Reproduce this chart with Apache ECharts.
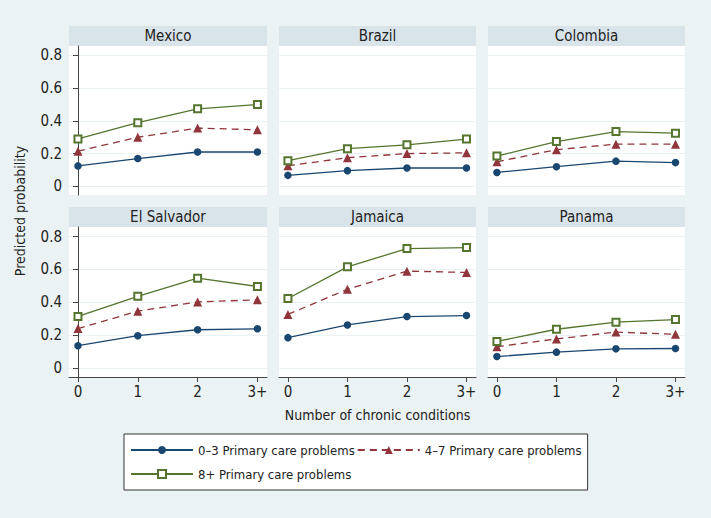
<!DOCTYPE html>
<html>
<head>
<meta charset="utf-8">
<script src="https://cdn.jsdelivr.net/npm/echarts@6/dist/echarts.min.js"></script>
<style>
html,body{margin:0;padding:0;background:#eaf2f3;}
#c{width:711px;height:518px;}
</style>
</head>
<body>
<div id="c"></div>
<script>
// ---- data ----
const categories = ['0', '1', '2', '3+'];
const countries = ['Mexico', 'Brazil', 'Colombia', 'El Salvador', 'Jamaica', 'Panama'];
const groupNames = ['0–3 Primary care problems', '4–7 Primary care problems', '8+ Primary care problems'];
// predicted probabilities, one row per country (same order as countries)
const probLow = [
  [0.125, 0.170, 0.210, 0.210],
  [0.067, 0.096, 0.112, 0.112],
  [0.085, 0.120, 0.154, 0.145],
  [0.137, 0.198, 0.234, 0.240],
  [0.186, 0.263, 0.314, 0.320],
  [0.071, 0.098, 0.118, 0.120]
];
const probMid = [
  [0.215, 0.300, 0.356, 0.346],
  [0.126, 0.175, 0.200, 0.205],
  [0.150, 0.224, 0.258, 0.258],
  [0.241, 0.347, 0.403, 0.416],
  [0.327, 0.480, 0.590, 0.582],
  [0.131, 0.178, 0.220, 0.206]
];
const probHigh = [
  [0.290, 0.389, 0.474, 0.500],
  [0.157, 0.230, 0.254, 0.289],
  [0.185, 0.274, 0.335, 0.325],
  [0.315, 0.437, 0.547, 0.497],
  [0.424, 0.616, 0.727, 0.733],
  [0.163, 0.237, 0.280, 0.296]
];
const yTickValues = [0, 0.2, 0.4, 0.6, 0.8];
const yTickLabels = ['0', '0.2', '0.4', '0.6', '0.8'];
const xTickValues = [0, 1, 2, 3];

// ---- layout / style ----
const FONT = "'Liberation Sans Narrow', 'DejaVu Sans Condensed', sans-serif";
const colors = ['#1a476f', '#90353b', '#55752f'];
const colLeft = [69, 279, 488];
const colWidth = [198, 197, 197];
const rowTop = [46, 227];
const rowHeight = [149, 150];
const barH = 20;

const grids = [], xAxes = [], yAxes = [], series = [], titles = [], graphics = [];
countries.forEach((name, i) => {
  const r = Math.floor(i / 3), c = i % 3;
  grids.push({ left: colLeft[c], top: rowTop[r], width: colWidth[c], height: rowHeight[r], show: true, backgroundColor: '#ffffff', borderWidth: 0 });
  graphics.push({ type: 'rect', shape: { x: colLeft[c], y: rowTop[r] - barH, width: colWidth[c], height: barH }, style: { fill: '#d8e4ea' }, silent: true });
  titles.push({ text: name, left: colLeft[c] + colWidth[c] / 2, top: rowTop[r] - barH + 2, textAlign: 'center', padding: 0,
    textStyle: { fontFamily: FONT, fontSize: 15, fontWeight: 'normal', color: '#222' } });
  const bottom = r === 1;
  xAxes.push({
    gridIndex: i, type: 'value', min: -0.15, max: 3.16,
    show: bottom,
    axisLine: { show: bottom, onZero: false, lineStyle: { color: '#444', width: 1 } },
    axisTick: { show: bottom, customValues: xTickValues, length: 5, lineStyle: { color: '#444' } },
    axisLabel: { show: bottom, customValues: xTickValues, formatter: v => categories[Math.round(v)], fontFamily: FONT, fontSize: 15, color: '#222', margin: 7 },
    splitLine: { show: false },
    name: (i === 4) ? 'Number of chronic conditions' : '',
    nameLocation: 'middle', nameGap: 31,
    nameTextStyle: { fontFamily: FONT, fontSize: 14, color: '#222' }
  });
  const leftCol = c === 0;
  yAxes.push({
    gridIndex: i, type: 'value', min: -0.053, max: 0.858,
    axisLine: { show: leftCol, lineStyle: { color: '#444', width: 1 } },
    axisTick: { show: leftCol, customValues: yTickValues, length: 5, lineStyle: { color: '#444' } },
    axisLabel: { show: leftCol, customValues: yTickValues, formatter: v => yTickLabels[yTickValues.findIndex(t => Math.abs(t - v) < 1e-6)] ?? '', fontFamily: FONT, fontSize: 15, color: '#222', margin: 7 },
    splitLine: { show: true, lineStyle: { color: '#eaf2f3', width: 1 } }
  });
  const sets = [probLow[i], probMid[i], probHigh[i]];
  const symbols = ['circle', 'triangle', 'emptyRect'];
  const sizes = [7.5, 9, 7];
  sets.forEach((vals, g) => {
    series.push({
      type: 'line', name: groupNames[g], xAxisIndex: i, yAxisIndex: i,
      data: vals.map((v, k) => [xTickValues[k], v]),
      symbol: symbols[g], symbolSize: sizes[g],
      showAllSymbol: true,
      lineStyle: { color: colors[g], width: 1.3, type: g === 1 ? [7, 5] : 'solid' },
      itemStyle: { color: colors[g], borderWidth: g === 2 ? 1.4 : 0 },
      emphasis: { disabled: true },
      animation: false, z: 3 + g
    });
  });
});

graphics.push({ type: 'text', x: 20, y: 211, rotation: Math.PI / 2,
  style: { text: 'Predicted probability', font: "14px " + FONT, fill: '#222', textAlign: 'center', textVerticalAlign: 'middle' } });

const chart = echarts.init(document.getElementById('c'), null, { renderer: 'svg' });
chart.setOption({
  backgroundColor: '#eaf2f3',
  animation: false,
  title: titles,
  grid: grids,
  xAxis: xAxes,
  yAxis: yAxes,
  series: series,
  graphic: graphics,
  legend: {
    data: groupNames,
    left: 124, top: 434, width: 462,
    orient: 'horizontal',
    backgroundColor: '#ffffff', borderColor: '#333', borderWidth: 1, borderRadius: 0,
    padding: [5, 6, 5, 6],
    itemWidth: 62, itemHeight: 10, itemGap: 2,
    textStyle: { fontFamily: FONT, fontSize: 13, color: '#222', lineHeight: 22 },
    selectedMode: false
  }
});
</script>
</body>
</html>
